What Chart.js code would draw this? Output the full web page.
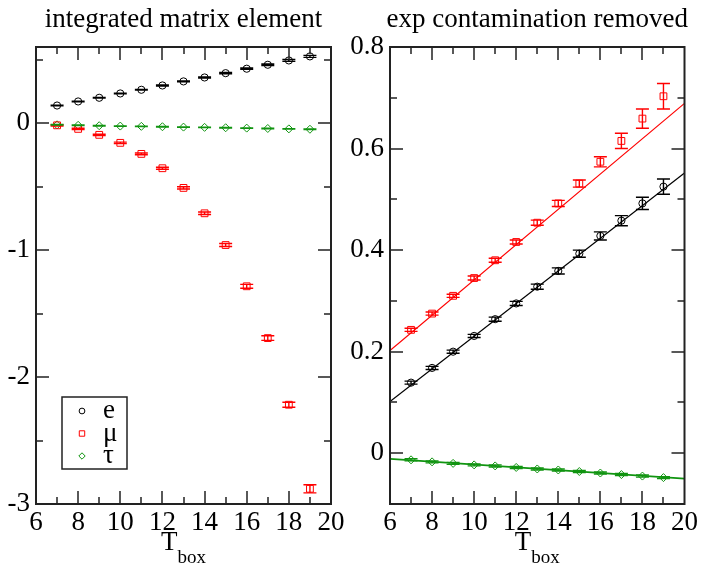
<!DOCTYPE html>
<html>
<head>
<meta charset="utf-8">
<script src="https://cdn.jsdelivr.net/npm/chart.js@4.4.1/dist/chart.umd.min.js"></script>
<style>
  body { margin: 0; background: #fff; }
  #wrap { position: relative; width: 701px; height: 565px; }
  canvas { position: absolute; top: 0; }
</style>
</head>
<body>
<div id="wrap">
  <canvas id="leftChart" width="350" height="565" style="left:0"></canvas>
  <canvas id="rightChart" width="351" height="565" style="left:350px"></canvas>
</div>
<script>
// T_box values shared by every series
const tbox = [7, 8, 9, 10, 11, 12, 13, 14, 15, 16, 17, 18, 19];

// left panel: integrated matrix element
const leftE = [0.139, 0.171, 0.200, 0.234, 0.263, 0.297, 0.329, 0.360, 0.394, 0.429, 0.460, 0.494, 0.526];
const leftEErr = [0.003, 0.003, 0.003, 0.003, 0.003, 0.004, 0.004, 0.004, 0.005, 0.005, 0.006, 0.007, 0.008];
const leftMu = [-0.017, -0.045, -0.092, -0.155, -0.242, -0.355, -0.510, -0.710, -0.960, -1.285, -1.693, -2.218, -2.880];
const leftMuErr = [0.005, 0.005, 0.005, 0.006, 0.007, 0.008, 0.009, 0.010, 0.012, 0.015, 0.018, 0.020, 0.032];
const leftTau = [-0.013, -0.017, -0.020, -0.023, -0.025, -0.028, -0.031, -0.033, -0.036, -0.039, -0.042, -0.045, -0.048];
const leftTauErr = [0.002, 0.002, 0.002, 0.002, 0.002, 0.002, 0.002, 0.002, 0.002, 0.002, 0.002, 0.002, 0.002];

// right panel: exp contamination removed
const rightE = [0.139, 0.168, 0.200, 0.231, 0.264, 0.295, 0.328, 0.359, 0.393, 0.428, 0.458, 0.492, 0.525];
const rightEErr = [0.003, 0.003, 0.003, 0.003, 0.004, 0.004, 0.005, 0.006, 0.007, 0.008, 0.010, 0.012, 0.015];
const rightMu = [0.243, 0.275, 0.310, 0.345, 0.380, 0.416, 0.454, 0.492, 0.531, 0.574, 0.615, 0.659, 0.703];
const rightMuErr = [0.003, 0.003, 0.003, 0.004, 0.004, 0.004, 0.005, 0.006, 0.007, 0.010, 0.015, 0.019, 0.025];
const rightTau = [-0.013, -0.017, -0.020, -0.023, -0.025, -0.028, -0.031, -0.033, -0.036, -0.039, -0.042, -0.045, -0.048];
const rightTauErr = [0.002, 0.002, 0.002, 0.002, 0.002, 0.002, 0.002, 0.002, 0.002, 0.002, 0.002, 0.002, 0.002];

// linear fits (value at each end of the x range)
const fitX = [6, 20];
const fitE = [0.102, 0.552];
const fitMu = [0.202, 0.689];
const fitTau = [-0.011, -0.050];

const legendLabels = ['e', 'μ', 'τ'];
const xTicks = { min: 6, max: 20, major: 2, minor: 1 };
const leftYTicks = { min: -3, max: 0.6, major: 1, minor: 0.5 };
const rightYTicks = { min: -0.1, max: 0.8, major: 0.2, minor: 0.1 };

const FONT = '"Liberation Serif", "DejaVu Serif", serif';
const BLACK = '#000000';
const RED = '#ff0000';
const GREEN = '#109410';

Chart.defaults.font.family = FONT;

function pts(vals, errs) {
    return tbox.map((t, i) => ({ x: t, y: vals[i], err: errs ? errs[i] : 0 }));
}

function series(label, vals, errs, color, style, radius) {
    return {
        label: label,
        data: pts(vals, errs),
        borderColor: color,
        backgroundColor: 'rgba(0,0,0,0)',
        pointStyle: style,
        pointRadius: radius,
        pointBorderWidth: 1,
        showLine: false,
        errorBars: true
    };
}

function fitLine(vals, color, width) {
    return {
        label: 'fit',
        data: fitX.map((x, i) => ({ x: x, y: vals[i] })),
        borderColor: color,
        borderWidth: width,
        pointRadius: 0,
        showLine: true,
        fill: false
    };
}

function isMult(v, step) {
    const r = v / step;
    return Math.abs(r - Math.round(r)) < 1e-6;
}

// frame, inward ticks, titles and error bars
const decoPlugin = {
    id: 'deco',
    afterDatasetsDraw(chart) {
        const { ctx, scales: { x, y } } = chart;
        ctx.save();
        ctx.lineWidth = 1.4;
        chart.data.datasets.forEach(ds => {
            if (!ds.errorBars) return;
            ctx.strokeStyle = ds.borderColor;
            ds.data.forEach(p => {
                const px = x.getPixelForValue(p.x);
                const top = y.getPixelForValue(p.y + p.err);
                const bot = y.getPixelForValue(p.y - p.err);
                ctx.beginPath();
                ctx.moveTo(px, top); ctx.lineTo(px, bot);
                ctx.moveTo(px - 6.5, top); ctx.lineTo(px + 6.5, top);
                ctx.moveTo(px - 6.5, bot); ctx.lineTo(px + 6.5, bot);
                ctx.stroke();
            });
        });
        ctx.restore();
    },
    afterDraw(chart, args, opts) {
        const { ctx, chartArea: a, scales: { x, y } } = chart;
        ctx.save();
        ctx.strokeStyle = '#222';
        ctx.lineWidth = 1.5;
        ctx.beginPath();
        let n = Math.round((xTicks.max - xTicks.min) / xTicks.minor);
        for (let i = 1; i < n; i++) {
            const v = xTicks.min + i * xTicks.minor;
            const px = Math.round(x.getPixelForValue(v));
            const len = isMult(v, xTicks.major) ? 13 : 7;
            ctx.moveTo(px, a.bottom); ctx.lineTo(px, a.bottom - len);
            ctx.moveTo(px, a.top); ctx.lineTo(px, a.top + len);
        }
        const yt = opts.yTicks;
        n = Math.floor((yt.max - yt.min) / yt.minor + 1e-6);
        for (let i = 1; i <= n; i++) {
            const v = yt.min + i * yt.minor;
            if (v >= yt.max - 1e-6) break;
            const py = Math.round(y.getPixelForValue(v));
            const len = isMult(v, yt.major) ? 13 : 7;
            ctx.moveTo(a.left, py); ctx.lineTo(a.left + len, py);
            ctx.moveTo(a.right, py); ctx.lineTo(a.right - len, py);
        }
        ctx.stroke();
        ctx.lineWidth = 2;
        ctx.strokeRect(a.left, a.top, a.right - a.left, a.bottom - a.top);

        // title
        const cx = (a.left + a.right) / 2;
        ctx.fillStyle = '#000';
        ctx.textAlign = 'center';
        ctx.textBaseline = 'alphabetic';
        ctx.font = '27px ' + FONT;
        ctx.fillText(opts.title, cx, 27);

        // x axis title T_box
        ctx.textAlign = 'left';
        ctx.font = '27px ' + FONT;
        const wT = ctx.measureText('T').width;
        ctx.font = '19px ' + FONT;
        const wB = ctx.measureText('box').width;
        const sx = cx - (wT + wB) / 2;
        ctx.font = '27px ' + FONT;
        ctx.fillText('T', sx, 550);
        ctx.font = '19px ' + FONT;
        ctx.fillText('box', sx + wT, 563);

        // legend box
        if (opts.legend) {
            const L = opts.legend;
            ctx.lineWidth = 1.5;
            ctx.strokeStyle = '#222';
            ctx.strokeRect(L.x, L.y, L.w, L.h);
            const items = chart.data.datasets.filter(d => d.errorBars);
            items.forEach((d, i) => {
                const sy = L.y + 14 + i * 22.5;
                ctx.strokeStyle = d.borderColor;
                ctx.fillStyle = 'rgba(0,0,0,0)';
                ctx.lineWidth = 1;
                Chart.helpers.drawPoint(ctx, {
                    pointStyle: d.pointStyle, radius: d.pointRadius * 0.8,
                    rotation: 0, borderWidth: 1
                }, L.x + 20, sy);
                ctx.fillStyle = '#000';
                ctx.font = '27px ' + FONT;
                ctx.textBaseline = 'middle';
                ctx.fillText(d.label, L.x + 41, sy);
            });
        }
        ctx.restore();
    }
};

function makeChart(id, datasets, yt, title, yWidth, padRight, legend) {
    return new Chart(document.getElementById(id), {
        type: 'scatter',
        data: { datasets: datasets },
        options: {
            responsive: false,
            animation: false,
            devicePixelRatio: 1,
            layout: { padding: { top: 47, right: padRight, left: 0, bottom: 0 } },
            plugins: {
                legend: { display: false },
                tooltip: { enabled: false },
                deco: { title: title, yTicks: yt, legend: legend }
            },
            scales: {
                x: {
                    type: 'linear',
                    min: xTicks.min, max: xTicks.max,
                    grid: { display: false, drawTicks: false },
                    border: { display: false },
                    ticks: {
                        stepSize: xTicks.major, padding: 3, color: '#000',
                        font: { family: FONT, size: 27 },
                        autoSkip: false, maxRotation: 0, includeBounds: false
                    },
                    afterFit: s => { s.height = 61; }
                },
                y: {
                    type: 'linear',
                    min: yt.min, max: yt.max,
                    grid: { display: false, drawTicks: false },
                    border: { display: false },
                    ticks: {
                        stepSize: yt.major, padding: 6, color: '#000',
                        font: { family: FONT, size: 27 },
                        autoSkip: false, includeBounds: false,
                        callback: v => String(Math.round(v * 10) / 10)
                    },
                    afterFit: s => { s.width = yWidth; }
                }
            }
        },
        plugins: [decoPlugin]
    });
}

makeChart('leftChart', [
    series(legendLabels[0], leftE, leftEErr, BLACK, 'circle', 3.6),
    series(legendLabels[1], leftMu, leftMuErr, RED, 'rect', 4.8),
    series(legendLabels[2], leftTau, leftTauErr, GREEN, 'rectRot', 4)
], leftYTicks, 'integrated matrix element', 36, 19, { x: 62, y: 397, w: 65, h: 72 });

makeChart('rightChart', [
    fitLine(fitE, BLACK, 1.2),
    fitLine(fitMu, RED, 1.2),
    fitLine(fitTau, GREEN, 1.8),
    series(legendLabels[0], rightE, rightEErr, BLACK, 'circle', 3.6),
    series(legendLabels[1], rightMu, rightMuErr, RED, 'rect', 4.8),
    series(legendLabels[2], rightTau, rightTauErr, GREEN, 'rectRot', 4)
], rightYTicks, 'exp contamination removed', 40, 16, null);
</script>
</body>
</html>
